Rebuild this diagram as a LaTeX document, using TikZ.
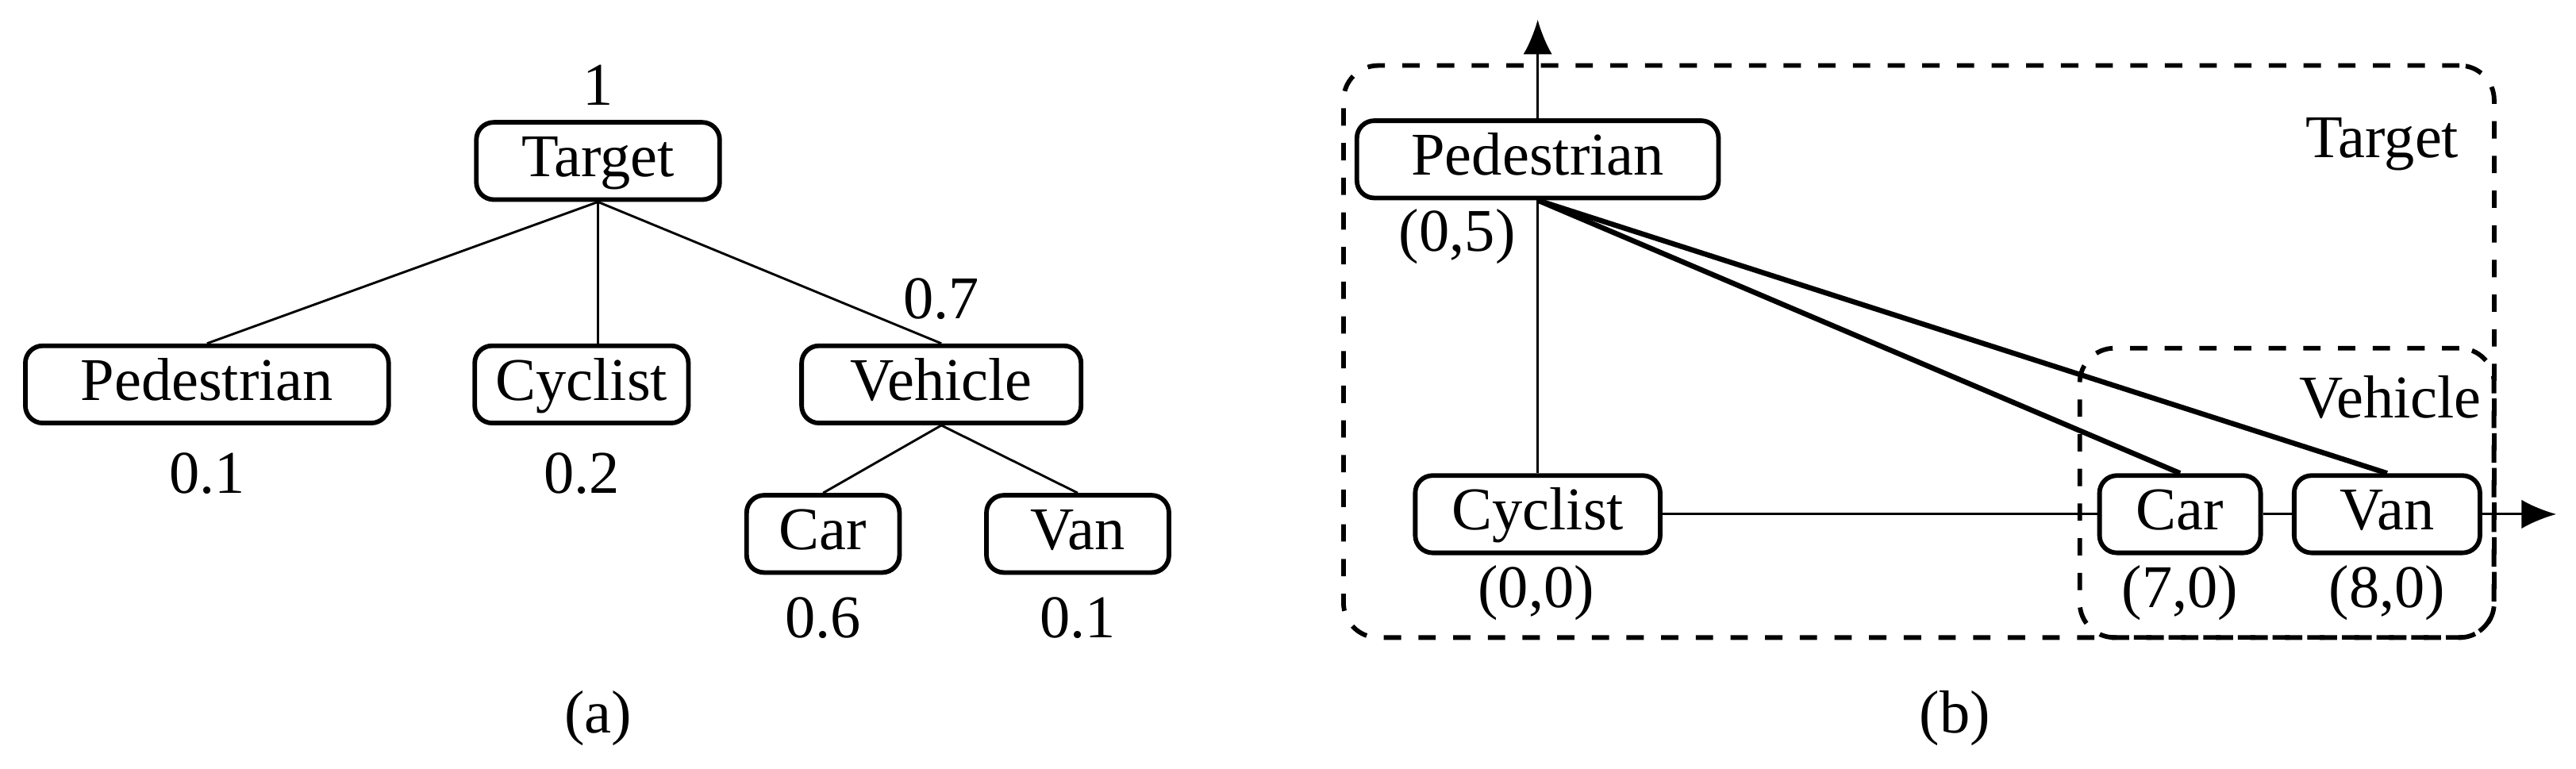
\documentclass[tikz,border=0pt]{standalone}
\usepackage{fontspec}
\setmainfont{Liberation Serif}
\usetikzlibrary{arrows.meta}

\begin{document}
\begin{tikzpicture}[x=0.01cm,y=-0.01cm,
    box/.style={draw,rounded corners=3pt,line width=0.8pt,minimum height=0.47cm,inner sep=0pt,text height=1.6ex,text depth=0.4ex},
    lbl/.style={inner sep=0pt},
    grp/.style={draw,dashed,rounded corners=6pt,line width=0.8pt},
    every node/.append style={font=\fontsize{10.5pt}{12.5pt}\selectfont}] %
    \useasboundingbox (0,0) rectangle (1568,468);
    % (a) hierarchy
    \node[box,minimum width=1.48cm] (target) at (364,98) {Target};
    \node[box,minimum width=2.21cm] (ped) at (126,234) {Pedestrian};
    \node[box,minimum width=1.30cm] (cyc) at (354,234) {Cyclist};
    \node[box,minimum width=1.70cm] (veh) at (573,234) {Vehicle};
    \node[box,minimum width=0.93cm] (car) at (501,325) {Car};
    \node[box,minimum width=1.11cm] (van) at (656,325) {Van};
    \node[lbl] (ptarget) at (364,52) {1};
    \node[lbl] (pped) at (126,288) {0.1};
    \node[lbl] (pcyc) at (354,288) {0.2};
    \node[lbl] (pveh) at (573,182) {0.7};
    \node[lbl] (pcar) at (501,376) {0.6};
    \node[lbl] (pvan) at (656,376) {0.1};
    \draw (target.south)--(ped.north);
    \draw (target.south)--(cyc.north-|target.south);
    \draw (target.south)--(veh.north);
    \draw (veh.south)--(car.north);
    \draw (veh.south)--(van.north);
    \node[lbl] (capa) at (364,437) {(a)};
    % (b) embedding
    \node[grp,minimum width=7.00cm,minimum height=3.48cm] (gtarget) at (1168,214) {};
    \node[grp,minimum width=2.52cm,minimum height=1.76cm] (gveh) at (1392,300) {};
    \node[lbl] at (1450,88) {Target};
    \node[lbl] at (1455,242) {Vehicle};
    \node[box,fill=white,minimum width=2.20cm] (bped) at (936,97) {Pedestrian};
    \node[box,minimum width=1.49cm] (bcyc) at (936,313) {Cyclist};
    \node[box,minimum width=0.98cm] (bcar) at (1327,313) {Car};
    \node[box,minimum width=1.13cm] (bvan) at (1453,313) {Van};
    \node[lbl] at (887,144) {(0,5)};
    \node[lbl] at (935,361) {(0,0)};
    \node[lbl] at (1327,361) {(7,0)};
    \node[lbl] at (1453,361) {(8,0)};
    \coordinate (yend) at (936,12);
    \coordinate (xend) at (1556,313);
    \draw[-{Latex[length=6pt,width=5pt]}] (bped.north)--(yend);
    \draw[-{Latex[length=6pt,width=5pt]}] (bvan.east)--(xend);
    \draw (bped.south)--(bcyc.north);
    \draw (bcyc.east)--(bcar.west);
    \draw (bcar.east)--(bvan.west);
    \draw[line width=0.9pt] (bped.south)--(bcar.north);
    \draw[line width=0.9pt] (bped.south)--(bvan.north);
    \node[lbl] (capb) at (1190,437) {(b)};
\end{tikzpicture}
\end{document}
